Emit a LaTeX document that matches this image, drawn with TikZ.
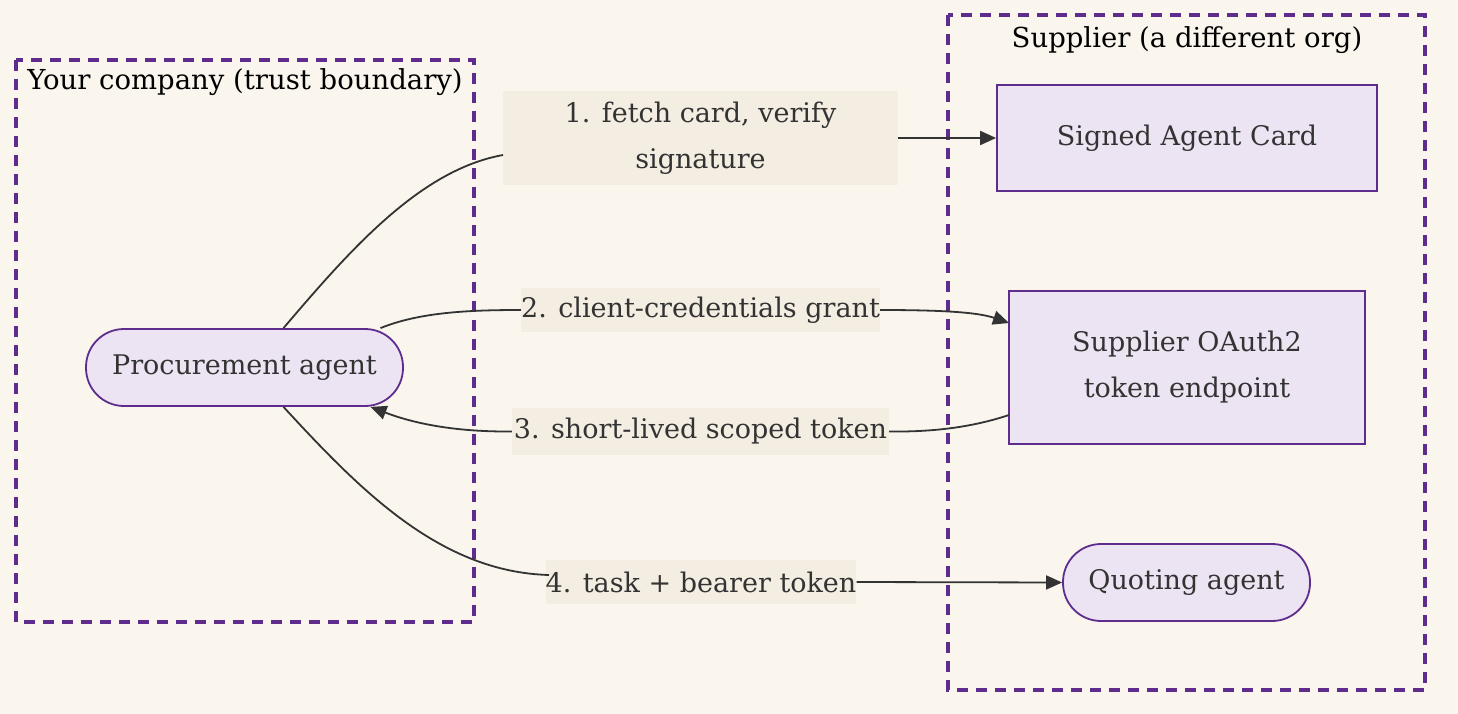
\documentclass[tikz,border=0pt]{standalone}
\usepackage{fontspec}
\setmainfont{DejaVu Serif}
\usetikzlibrary{arrows.meta}
\definecolor{bgc}{RGB}{250,246,238}
\definecolor{pur}{RGB}{94,44,140}
\definecolor{nodefill}{RGB}{236,228,242}
\definecolor{lblfill}{RGB}{243,237,226}
\definecolor{ink}{RGB}{51,51,51}
\tikzset{
  boundary/.style={draw=pur, line width=4pt, dash pattern=on 11pt off 8pt},
  grouptitle/.style={text=black, font=\fontsize{27.5}{32}\selectfont, inner sep=0pt},
  box/.style={draw=pur, line width=1.8pt, fill=nodefill, text=ink, font=\fontsize{27}{46}\selectfont, align=center, inner sep=0pt},
  stadium/.style={box, rounded corners=38pt},
  lbl/.style={fill=lblfill, text=ink, font=\fontsize{27}{46}\selectfont, align=center, inner sep=0pt},
  conn/.style={draw=ink, line width=1.8pt},
  arr/.style={conn, -{Triangle[length=16pt,width=14pt]}},
}
\begin{document}
\begin{tikzpicture}[x=1pt,y=-1pt]
\useasboundingbox[fill=bgc] (0,0) rectangle (1458,714);
% boundaries
\draw[boundary] (16,60) rectangle (474,622);
\node[grouptitle] (t1) at (245,82) {Your company (trust boundary)};
\draw[boundary] (948,15) rectangle (1425,690);
\node[grouptitle] (t2) at (1187,40) {Supplier (a different org)};
% nodes
\node[stadium, minimum width=317pt, minimum height=77pt] (pa) at (244.5,367.5) {Procurement agent};
\node[box, minimum width=380pt, minimum height=106pt] (sac) at (1187,138) {Signed Agent Card};
\node[box, minimum width=356pt, minimum height=153pt] (oa) at (1187,367.5) {Supplier OAuth2\\token endpoint};
\node[stadium, minimum width=247pt, minimum height=77pt] (qa) at (1186.5,582.5) {Quoting agent};
% labels
\node[lbl, minimum width=395pt, minimum height=94pt] (l1) at (700.5,138) {1. fetch card, verify\\signature};
\node[lbl, minimum width=359pt, minimum height=44pt] (l2) at (700.5,310) {2. client-credentials grant};
\node[lbl, minimum width=377pt, minimum height=47pt] (l3) at (700.5,431.5) {3. short-lived scoped token};
\node[lbl, minimum width=304pt, minimum height=44pt] (l4) at (701,582) {4. task + bearer token};
% connectors
\coordinate (p1) at ([xshift=39pt]pa.north);
\coordinate (p2) at ([xshift=136pt]pa.north);
\coordinate (p3) at ([xshift=126pt]pa.south);
\coordinate (p4) at ([xshift=39pt]pa.south);
\coordinate (l1in) at (503,155);
\coordinate (l4in) at (549,575);
\coordinate (oaout) at (1009,415);
\coordinate (oain) at (1009,323);
\draw[conn] (p1) .. controls (350,250) and (420,170) .. (l1in);
\draw[arr] (l1.east) -- (sac.west);
\draw[conn] (p2) .. controls (420,312) and (470,310) .. (l2.west);
\draw[arr] (l2.east) .. controls (950,310) and (980,313) .. (oain);
\draw[conn] (oaout) .. controls (970,428) and (930,432) .. (l3.east);
\draw[arr] (l3.west) .. controls (450,432) and (410,422) .. (p3);
\draw[conn] (p4) .. controls (360,490) and (440,572) .. (l4in);
\draw[arr] (l4.east) -- (qa.west);
\end{tikzpicture}
\end{document}
